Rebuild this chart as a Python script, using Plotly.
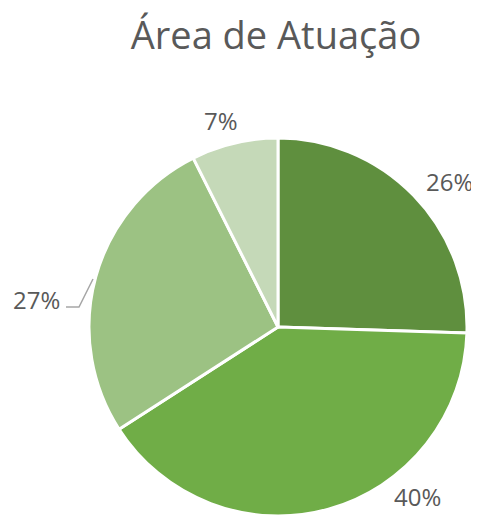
import plotly.graph_objects as go

categories = ["A", "B", "C", "D"]
values = [25.5, 40.4, 26.7, 7.4]
labels_text = ["26%", "40%", "27%", "7%"]
colors = ["#5F8F3E", "#70AD47", "#9CC283", "#C5D9B8"]

# page is 479x516; the html body keeps a default 8px margin, so the figure is 8px smaller
OFF = 8
W, H = 479 - OFF, 516 - OFF
cx, cy, r = 278, 328, 190  # page pixels

# data-label anchor positions (page pixels from top-left), as placed in the reference layout
label_pos = [(449, 181), (417, 496), (36, 299), (221, 120)]

def px(x):
    return (x - OFF) / W

def py(y):
    return 1 - (y - OFF) / H

fig = go.Figure(go.Pie(
    labels=categories,
    values=values,
    textinfo="none",
    sort=False,
    direction="clockwise",
    rotation=0,
    marker=dict(colors=colors, line=dict(color="white", width=3)),
    domain=dict(x=[px(cx - r), px(cx + r)], y=[0, py(cy - r)]),
    showlegend=False,
    hoverinfo="skip",
))

for txt, (lx, ly) in zip(labels_text, label_pos):
    fig.add_annotation(
        x=px(lx), y=py(ly), xref="paper", yref="paper",
        text=txt, showarrow=False, xanchor="center", yanchor="middle",
        font=dict(family="Open Sans", size=24, color="#595959"),
    )

# leader line for the 27% label
fig.add_shape(
    type="path", xref="paper", yref="paper",
    path=f"M {px(66)} {py(307)} L {px(79)} {py(307)} L {px(93)} {py(279)}",
    line=dict(color="#A6A6A6", width=1.5),
)

fig.update_layout(
    width=W, height=H,
    margin=dict(l=0, r=0, t=0, b=0),
    paper_bgcolor="white",
    title=dict(text="Área de Atuação", x=px(276), xanchor="center", y=py(36), yanchor="middle",
               font=dict(family="Open Sans", size=38, color="#595959")),
)

fig.write_html("out.html")
